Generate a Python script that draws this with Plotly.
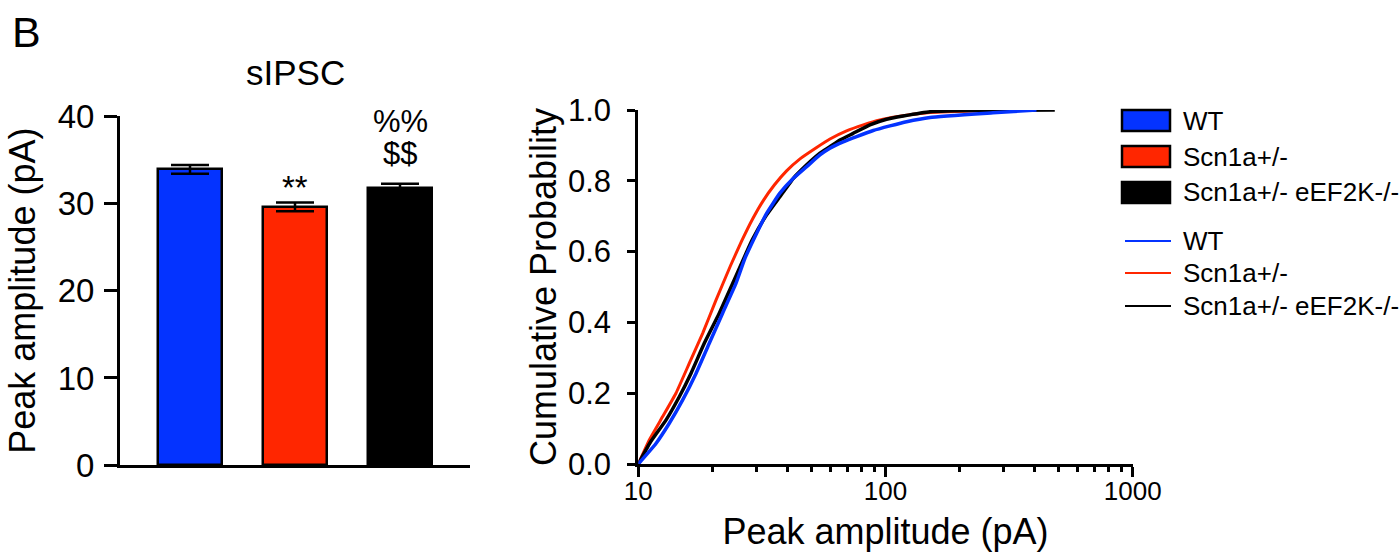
import plotly.graph_objects as go

# ---------------- data ----------------
groups = ["WT", "Scn1a+/-", "Scn1a+/- eEF2K-/-"]
bar_mean = [33.9, 29.6, 31.8]
bar_sem = [0.5, 0.5, 0.45]
bar_colors = ["#0433FF", "#FF2600", "#000000"]
bar_marks = ["", "**", "%%"]
bar_marks2 = ["", "", "$$"]

wt_x = [10, 11.79, 13.35, 15.12, 17.12, 19.37, 21.93, 24.83, 27.0, 30.12, 33.04, 37.4, 42.4, 48.0,
        54.3, 59.6, 67.4, 76.4, 89.2, 104.2, 121.7, 151.4, 272, 408]
wt_p = [0.0, 0.058, 0.115, 0.181, 0.256, 0.341, 0.426, 0.510, 0.581, 0.652, 0.708, 0.765, 0.807, 0.840,
        0.873, 0.892, 0.910, 0.925, 0.942, 0.955, 0.967, 0.979, 0.992, 1.0]

scn_x = [10, 11.08, 12.55, 14.2, 16.07, 18.21, 20.62, 23.6, 26.2, 29.0, 32.03, 35.5, 39.8, 45.1,
         52.65, 59.6, 69.6, 81.3, 94.9, 110.9, 151.4, 250, 408]
scn_p = [0.0, 0.068, 0.134, 0.200, 0.284, 0.369, 0.463, 0.560, 0.630, 0.692, 0.744, 0.788, 0.828, 0.862,
         0.894, 0.918, 0.941, 0.958, 0.972, 0.981, 0.993, 0.998, 1.0]

dko_x = [10, 11.2, 12.94, 14.65, 16.33, 18.49, 21.26, 24.08, 28.9, 33.0, 37.4, 42.4, 48.0, 54.3,
         59.6, 65.4, 74.0, 86.5, 101.0, 117.9, 151.4, 250, 484]
dko_p = [0.0, 0.062, 0.124, 0.190, 0.256, 0.341, 0.426, 0.510, 0.633, 0.703, 0.755, 0.807, 0.845, 0.878,
         0.896, 0.915, 0.934, 0.958, 0.974, 0.983, 0.995, 0.999, 1.0]

left_yticks = [0, 10, 20, 30, 40]
right_yticks = [0, 0.2, 0.4, 0.6, 0.8, 1.0]
log_major = [10, 100, 1000]
log_minor = [20, 30, 40, 50, 60, 70, 80, 90, 200, 300, 400, 500, 600, 700, 800, 900]

# ---------------- layout helpers ----------------
W, H = 1400, 552
FONT = "Liberation Sans, Arial, sans-serif"


def px(x):
    return x / W


def py(y):
    return 1 - y / H


fig = go.Figure()

# bars
fig.add_trace(go.Bar(
    x=groups, y=bar_mean, width=0.605,
    marker=dict(color=bar_colors, line=dict(color="black", width=2.5)),
    error_y=dict(type="data", array=bar_sem, color="black", thickness=2.5, width=19),
    xaxis="x", yaxis="y", showlegend=False,
))

# cumulative curves
for xs, ps, col, w in [(scn_x, scn_p, "#FF2600", 3),
                       (dko_x, dko_p, "#000000", 3.5),
                       (wt_x, wt_p, "#0433FF", 3.5)]:
    fig.add_trace(go.Scatter(
        x=xs, y=ps, mode="lines", line=dict(color=col, width=w, shape="spline", smoothing=0.4),
        xaxis="x2", yaxis="y2", showlegend=False, cliponaxis=False,
    ))

axis_common = dict(showline=True, linecolor="black", linewidth=3, showgrid=False, automargin=False,
                   zeroline=False, tickcolor="black", tickwidth=3, ticks="outside")

fig.update_layout(
    template="none",
    width=W, height=H,
    margin=dict(l=0, r=0, t=0, b=0, pad=0, autoexpand=False),
    paper_bgcolor="white", plot_bgcolor="white",
    font=dict(family=FONT, color="black"),
    bargap=0,
    showlegend=False,
    xaxis=dict(domain=[px(120), px(470)], range=[-0.6667, 2.6667], showticklabels=False,
               showline=True, linecolor="black", linewidth=3, ticks="", showgrid=False, zeroline=False,
               automargin=False, anchor="y"),
    yaxis=dict(domain=[py(465.3), py(116)], range=[0, 40], tickvals=left_yticks,
               ticklen=13, tickfont=dict(size=33, family=FONT), ticklabelstandoff=3,
               title=dict(text="Peak amplitude (pA)", font=dict(size=36, family=FONT), standoff=12),
               anchor="x", **axis_common),
    xaxis2=dict(domain=[px(638.3), px(1132.7)], type="log", range=[1, 3],
                tickvals=log_major, ticktext=["10", "100", "1000"], ticklen=10,
                tickfont=dict(size=26, family=FONT), ticklabelstandoff=-8,
                minor=dict(tickvals=log_minor, ticks="outside", ticklen=5, tickwidth=2.5, tickcolor="black"),
                title=dict(text="Peak amplitude (pA)", font=dict(size=36, family=FONT), standoff=17),
                anchor="y2", **axis_common),
    yaxis2=dict(domain=[py(464), py(110)], range=[0, 1], tickvals=right_yticks, tickformat=".1f",
                ticklen=8, tickfont=dict(size=31, family=FONT), ticklabelstandoff=10,
                title=dict(text="Cumulative Probability", font=dict(size=36, family=FONT), standoff=1),
                anchor="x2", **axis_common),
)

annotations = []
# panel letter and title
annotations.append(dict(text="B", x=px(10), y=py(32), xref="paper", yref="paper", xanchor="left",
                        yanchor="middle", showarrow=False, font=dict(size=43, family=FONT)))
annotations.append(dict(text="sIPSC", x=px(295), y=py(72), xref="paper", yref="paper", xanchor="center",
                        yanchor="middle", showarrow=False, font=dict(size=35, family=FONT)))
# significance marks
for g, m, m2, v, e in zip(groups, bar_marks, bar_marks2, bar_mean, bar_sem):
    if m2:
        annotations.append(dict(text=m2, x=g, y=v + e, xref="x", yref="y", xanchor="center",
                                yanchor="bottom", yshift=11, showarrow=False, font=dict(size=31, family=FONT)))
        annotations.append(dict(text=m, x=g, y=v + e, xref="x", yref="y", xanchor="center",
                                yanchor="bottom", yshift=43, showarrow=False, font=dict(size=31, family=FONT)))
    elif m:
        annotations.append(dict(text=m, x=g, y=v + e, xref="x", yref="y", xanchor="center",
                                yanchor="bottom", yshift=-6, showarrow=False, font=dict(size=33, family=FONT)))

# legend (bars)
shapes = []
box_y = [(110, 131), (146, 167), (182, 203)]
for (y0, y1), col, name in zip(box_y, bar_colors, groups):
    shapes.append(dict(type="rect", xref="paper", yref="paper", x0=px(1122), x1=px(1170),
                       y0=py(y1), y1=py(y0), fillcolor=col, line=dict(color="black", width=2.5)))
    annotations.append(dict(text=name, x=px(1181), y=py((y0 + y1) / 2), xref="paper", yref="paper",
                            xanchor="left", yanchor="middle", showarrow=False, font=dict(size=26, family=FONT)))
# legend (lines)
line_y = [241, 273, 306]
for yy, col, name in zip(line_y, bar_colors, groups):
    shapes.append(dict(type="line", xref="paper", yref="paper", x0=px(1125), x1=px(1171),
                       y0=py(yy), y1=py(yy), line=dict(color=col, width=2)))
    annotations.append(dict(text=name, x=px(1181), y=py(yy), xref="paper", yref="paper",
                            xanchor="left", yanchor="middle", showarrow=False, font=dict(size=26, family=FONT)))

fig.update_layout(annotations=annotations, shapes=shapes)
fig.write_html("out.html")
